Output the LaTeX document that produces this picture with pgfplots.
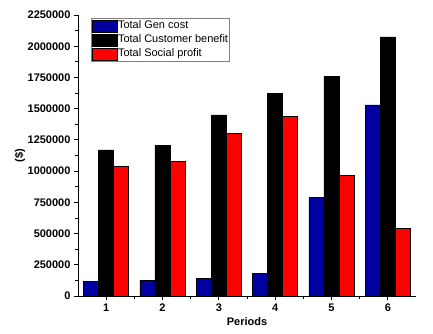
\documentclass[border=0pt]{standalone}
\usepackage{pgfplots}
\pgfplotsset{compat=1.18}
\usepackage{fontspec}
\setmainfont{Liberation Sans}
\definecolor{gblue}{RGB}{0,0,160}
\definecolor{gred}{RGB}{255,0,0}
\begin{document}
\begin{tikzpicture}
\path[use as bounding box] (-78pt,-37pt) rectangle (355pt,296pt);
\begin{axis}[
  at={(0pt,0pt)}, anchor=south west,
  scale only axis, width=338pt, height=281pt,
  axis lines*=left,
  axis line style={line width=0.8pt},
  xmin=0.5, xmax=6.5, ymin=0, ymax=2250000,
  xtick={1,2,3,4,5,6},
  minor x tick num=1,
  ytick distance=250000,
  minor y tick num=1,
  tick align=outside,
  major tick length=4pt, minor tick length=2.5pt,
  tick style={black, line width=0.8pt},
  scaled ticks=false,
  /pgf/number format/assume math mode=true,
  yticklabel style={/pgf/number format/fixed, /pgf/number format/1000 sep={}},
  tick label style={font=\bfseries\fontsize{11}{13}\selectfont},
  xlabel={Periods}, ylabel={(\$)},
  label style={font=\bfseries\fontsize{11}{13}\selectfont},
  xlabel style={at={(axis description cs:0.5,-0.0925)}, anchor=center},
  ylabel style={at={(axis description cs:-0.172,0.5)}, anchor=center},
  ybar=0pt, bar width=0.267,
  legend style={at={(axis description cs:0.0376,0.989)}, anchor=north west,
    draw=gray, line width=0.8pt, inner sep=0.5pt, row sep=0pt,
    font=\fontsize{11}{12}\selectfont,
    nodes={inner sep=0.8pt, text height=9pt, text depth=3.5pt}},
  legend cell align=left,
  legend image code/.code={\draw[#1, draw=black, line width=0.6pt] (0pt,-6pt) rectangle (25pt,6pt);},
]
\addplot[fill=gblue, draw=black, line width=0.6pt] coordinates {(1,120000) (2,128000) (3,144000) (4,182000) (5,790000) (6,1530000)};
\addplot[fill=black, draw=black, line width=0.6pt] coordinates {(1,1170000) (2,1205000) (3,1450000) (4,1625000) (5,1760000) (6,2075000)};
\addplot[fill=gred, draw=black, line width=0.6pt] coordinates {(1,1040000) (2,1078000) (3,1300000) (4,1440000) (5,967000) (6,542000)};
\legend{Total Gen cost, Total Customer benefit, Total Social profit}
\end{axis}
\end{tikzpicture}
\end{document}
